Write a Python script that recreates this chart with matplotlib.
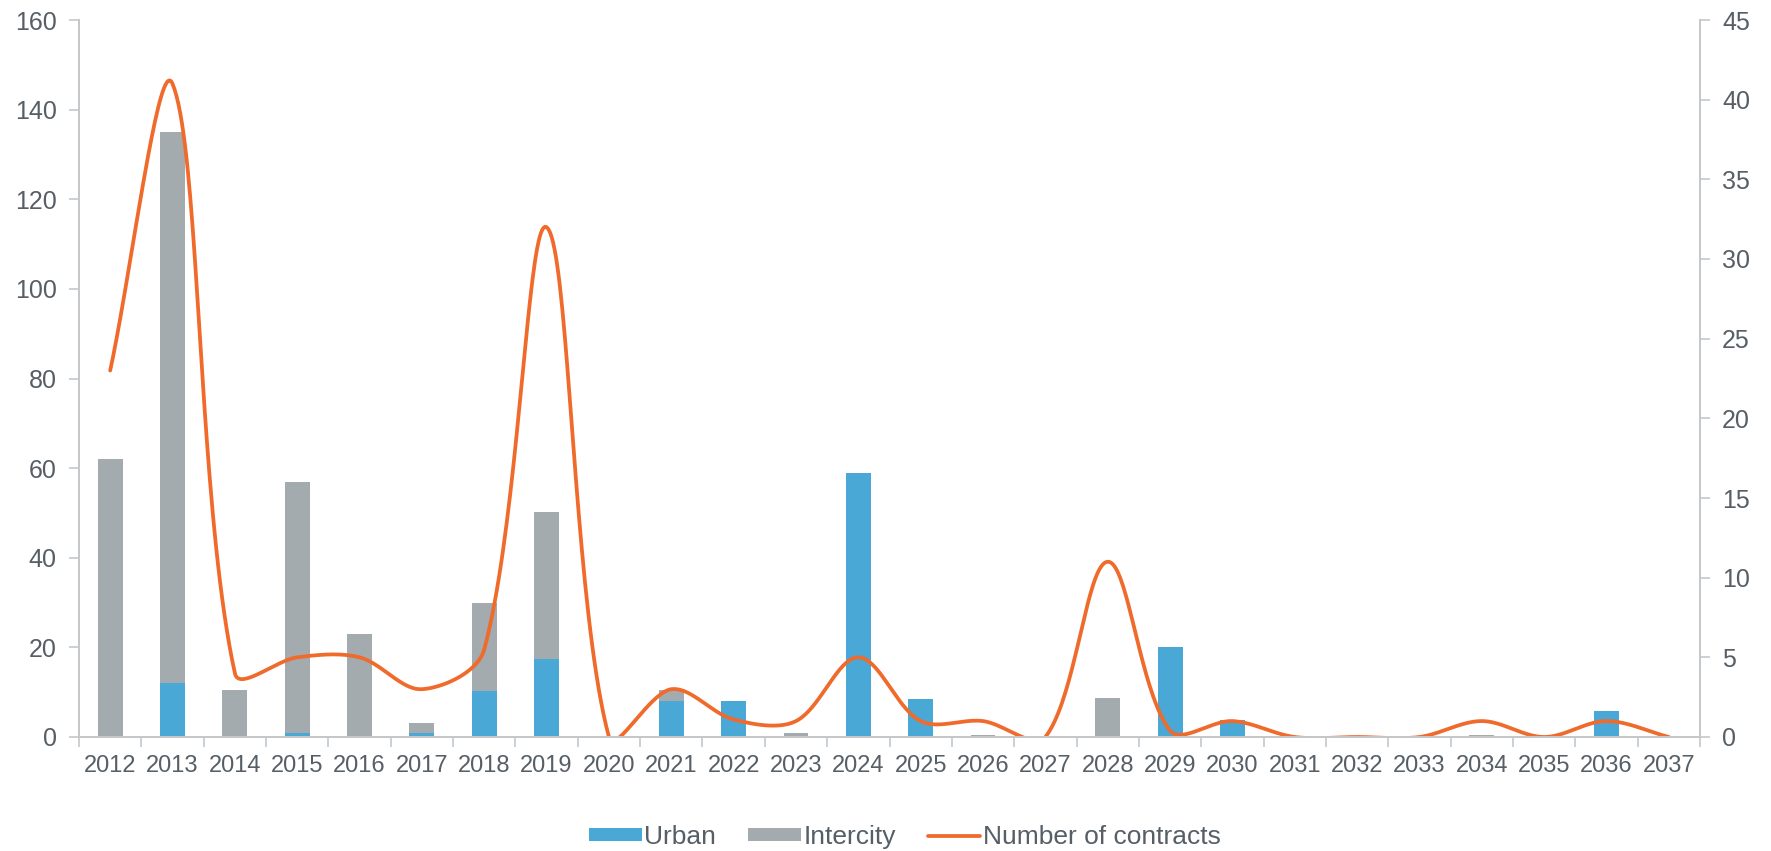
import numpy as np
import matplotlib.pyplot as plt
from matplotlib.ticker import FixedLocator, NullFormatter

years = [str(y) for y in range(2012, 2038)]
urban = [0, 12, 0, 1, 0, 1, 10.3, 17.5, 0, 8, 8, 0, 59, 8.4, 0, 0, 0, 20, 3.7, 0, 0, 0, 0, 0, 5.8, 0]
intercity = [62, 123, 10.4, 56, 23, 2.2, 19.7, 32.8, 0, 2.4, 0, 0.9, 0, 0, 0.5, 0, 8.7, 0, 0, 0, 0, 0, 0.4, 0, 0, 0]
contracts = [23, 41, 4, 5, 5, 3, 5.5, 32, 0, 3, 1.1, 1, 5, 1, 1, 0, 11, 0.4, 1, 0, 0, 0, 1, 0, 1, 0]

BLUE = '#4aa8d6'
GRAY = '#a4abae'
ORANGE = '#ef6a2b'
TXT = '#565e66'
AXC = '#c4c8cb'

# pixel size of one unit on each axis, used so the smoothing works in screen space
SX = 62.35
SY = 717 / 45


def smooth_line(x, y, n=40):
    """Smoothed line like the office chart one: bezier segments whose
    tangents are weighted by the neighbouring chord lengths"""
    P = np.column_stack([np.asarray(x, float) * SX, np.asarray(y, float) * SY])
    m = len(P)
    cin = P.copy()
    cout = P.copy()
    for i in range(m):
        a = P[max(i - 1, 0)]
        c = P[min(i + 1, m - 1)]
        d = c - a
        l0 = np.hypot(*(P[i] - a))
        l1 = np.hypot(*(c - P[i]))
        if l0 + l1 == 0:
            continue
        cout[i] = P[i] + d * (l1 / (l0 + l1)) / 3
        cin[i] = P[i] - d * (l0 / (l0 + l1)) / 3
    t = np.linspace(0, 1, n)[:, None]
    pts = []
    for i in range(m - 1):
        b = ((1 - t) ** 3 * P[i] + 3 * (1 - t) ** 2 * t * cout[i]
             + 3 * (1 - t) * t ** 2 * cin[i + 1] + t ** 3 * P[i + 1])
        pts.append(b)
    pts = np.vstack(pts)
    return pts[:, 0] / SX, pts[:, 1] / SY


plt.rcParams['font.family'] = ['Liberation Sans', 'DejaVu Sans']

fig = plt.figure(figsize=(17.71, 8.51), dpi=100)
ax = fig.add_axes([79 / 1771, 1 - 737 / 851, (1700 - 79) / 1771, (737 - 20) / 851])
ax2 = ax.twinx()

x = np.arange(len(years))
w = 0.4
b1 = ax.bar(x, urban, w, color=BLUE, label='Urban', zorder=2)
b2 = ax.bar(x, intercity, w, bottom=urban, color=GRAY, label='Intercity', zorder=2)

sx, sy = smooth_line(x, contracts)
l1, = ax2.plot(sx, sy, color=ORANGE, lw=2.7, label='Number of contracts',
               solid_capstyle='round')

ax.set_xlim(-0.5, len(years) - 0.5)
ax.set_ylim(0, 160)
ax2.set_ylim(0, 45)
ax.set_yticks(np.arange(0, 161, 20))
ax2.set_yticks(np.arange(0, 46, 5))

# tick marks on category boundaries, labels on category centres
ax.xaxis.set_major_locator(FixedLocator(np.arange(-0.5, len(years), 1)))
ax.xaxis.set_major_formatter(NullFormatter())
ax.xaxis.set_minor_locator(FixedLocator(x))
ax.set_xticklabels(years, minor=True)
ax.tick_params(axis='x', which='major', length=7, width=1.2, color=AXC)
ax.tick_params(axis='x', which='minor', length=0, pad=13, labelsize=17, labelcolor=TXT)

ax.tick_params(axis='y', length=7, width=1.2, color=AXC, pad=9, labelsize=18, labelcolor=TXT)
ax2.tick_params(axis='y', length=7, width=1.2, color=AXC, pad=9, labelsize=18, labelcolor=TXT)

for a in (ax, ax2):
    a.spines['top'].set_visible(False)
    for s in ('left', 'right', 'bottom'):
        a.spines[s].set_color(AXC)
        a.spines[s].set_linewidth(1.4)

fig.legend(handles=[b1, b2, l1], loc='center', bbox_to_anchor=(905 / 1771, 1 - 837 / 851),
           ncol=3, frameon=False, fontsize=19, labelcolor=TXT, handlelength=2.0,
           handleheight=0.4, handletextpad=0.1, columnspacing=1.2)

fig.savefig('out.png', dpi=100)
